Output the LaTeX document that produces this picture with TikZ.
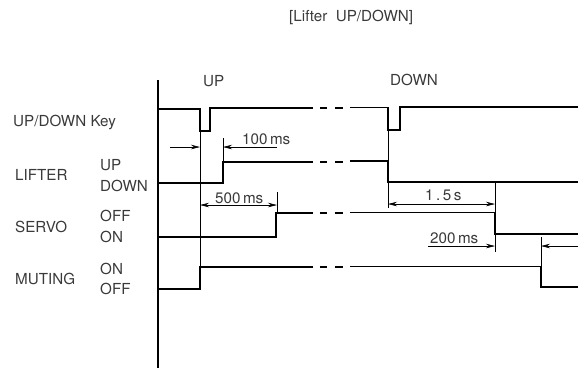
\documentclass[tikz,border=0pt]{standalone}
\usepackage{fontspec}
\setmainfont{TeX Gyre Heros}
\usetikzlibrary{arrows.meta}
\definecolor{txt}{HTML}{3A3A3A}
\tikzset{
  sig/.style={line width=1.6pt, line cap=butt, line join=miter},
  thin/.style={line width=0.6pt},
  dim/.style={line width=0.6pt, -{Stealth[length=9pt,width=4.5pt]}},
  dimb/.style={line width=0.6pt, {Stealth[length=9pt,width=4.5pt]}-{Stealth[length=9pt,width=4.5pt]}},
  lab/.style={anchor=base west, inner sep=0pt, text=txt, font=\fontsize{15.2}{16}\selectfont},
}
\begin{document}
\begin{tikzpicture}[x=1pt,y=-1pt]
\useasboundingbox (0,0) rectangle (588,368);
% title
\node[lab] (title) at (289,21) {[Lifter\ \ UP/DOWN]};
\node[lab] (colup) at (203,86) {UP};
\node[lab] (coldown) at (390,85) {DOWN};
% row labels
\node[lab] (lkey) at (13,126) {UP/DOWN Key};
\node[lab] (llift) at (15,180) {LIFTER};
\node[lab] (lliftup) at (100,170) {UP};
\node[lab] (lliftdn) at (100,191) {DOWN};
\node[lab] (lservo) at (15,232) {SERVO};
\node[lab] (lservooff) at (100,221) {OFF};
\node[lab] (lservoon) at (100,242) {ON};
\node[lab] (lmute) at (15,284) {MUTING};
\node[lab] (lmuteon) at (100,274) {ON};
\node[lab] (lmuteoff) at (100,294) {OFF};
% axis
\draw[line width=1.6pt] (158,80) -- (158,368);
% key
\draw[sig] (158,109) -- (200,109) -- (200,131) -- (210,131) -- (210,108) -- (313,108);
\draw[sig] (320,108) -- (327,108) (335,108) -- (343,108);
\draw[sig] (350,107.5) -- (388,107.5) -- (388,130) -- (400,130) -- (400,107) -- (578,107);
% lifter
\draw[sig] (158,183) -- (223,183) -- (223,162) -- (313,162);
\draw[sig] (320,162) -- (327,162) (335,162) -- (343,162);
\draw[sig] (350,161) -- (388,161) -- (388,182) -- (578,182);
% servo
\draw[sig] (158,237) -- (276,237) -- (276,213) -- (313,213);
\draw[sig] (320,213) -- (327,213) (335,213) -- (343,213);
\draw[sig] (350,212.5) -- (495,212.5) -- (495,234) -- (578,234);
% muting
\draw[sig] (158,289) -- (200,289) -- (200,267) -- (313,267);
\draw[sig] (320,267) -- (327,267) (335,267) -- (343,267);
\draw[sig] (350,266.5) -- (541,266.5) -- (541,287) -- (578,287);
% thin guide lines
\draw[thin] (200,131) -- (200,267);
\draw[thin] (223,138) -- (223,162);
\draw[thin] (277,192) -- (277,213);
\draw[thin] (388,130) -- (388,208);
\draw[thin] (495,183) -- (495,252);
\draw[thin] (541,237) -- (541,267);
% dimensions
\coordinate (a1) at (170,147); \coordinate (a2) at (200,147);
\coordinate (a3) at (277,147); \coordinate (a4) at (223,147);
\draw[dim] (a1) -- (a2);
\draw[dim] (a3) -- (a4);
\node[lab] (t100) at (242,144) {100\,ms};
\coordinate (b1) at (200,205); \coordinate (b2) at (277,205);
\draw[dimb] (b1) -- (b2);
\node[lab] (t500) at (215,203) {500\,ms};
\coordinate (c1) at (388,204); \coordinate (c2) at (495,204);
\draw[dimb] (c1) -- (c2);
\node[lab] (t15) at (425,200) {1\,.\,5\,s};
\coordinate (d1) at (428,246); \coordinate (d2) at (495,246);
\coordinate (d3) at (578,246); \coordinate (d4) at (541,246);
\draw[dim] (d1) -- (d2);
\draw[dim] (d3) -- (d4);
\node[lab] (t200) at (430,243) {200\,ms};
\end{tikzpicture}
\end{document}
